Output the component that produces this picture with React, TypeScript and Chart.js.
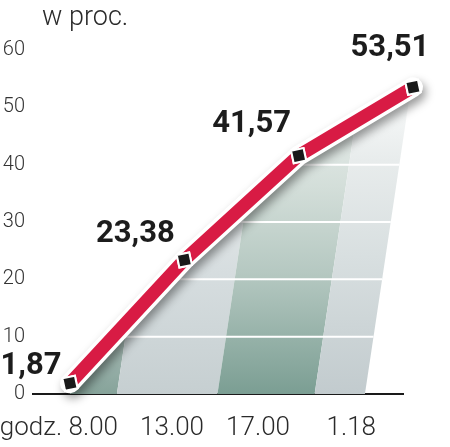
import React, { useEffect, useRef } from "react";
import { Chart, registerables } from "chart.js";

Chart.register(...registerables);

// ---- data ----
const categories: string[] = ["godz. 8.00", "13.00", "17.00", "1.18"];
const values: number[] = [1.87, 23.38, 41.57, 53.51];
const yTickValues: number[] = [0, 10, 20, 30, 40, 50, 60];
const unitLabel = "w proc.";

// ---- style ----
const RED = "#d81b44";
const TEXT = "#2a2a2a";
const LIGHT_FONT = "Roboto, 'Open Sans', sans-serif";
const SLANT = 0.15; // px right per px up, for the decorative bands

// decorative bands (in point-index units along the hidden x scale)
const BANDS = [
  { from: -0.5, to: 0.41, stops: [[0, "#86a39a"], [0.3, "#c2cecb"], [0.6, "#e6ebea"], [1, "#ffffff"]] },
  { from: 0.41, to: 1.29, stops: [[0, "#c6cfd1"], [0.35, "#d6dddf"], [0.6, "#e5e9ea"], [1, "#f7f8f8"]] },
  { from: 1.29, to: 2.14, stops: [[0, "#7b9e93"], [0.35, "#b5c8c1"], [0.6, "#d3ded9"], [0.8, "#e6ecea"], [1, "#f6f8f7"]] },
  { from: 2.14, to: 2.58, stops: [[0, "#c2cbce"], [0.4, "#d8dfe0"], [0.68, "#e8ecec"], [0.82, "#f4f6f6"], [1, "#ffffff"]] },
];

// data-label placement relative to each point (px)
const LABEL_DX = [-39, -49, -47, -23];
const LABEL_DY = [-17, -26, -31, -39];

const fmt = (v: number) => v.toFixed(2).replace(".", ",");

const bandPlugin = {
  id: "bands",
  beforeDatasetsDraw(chart: any) {
    const { ctx, scales } = chart;
    const xs = scales.x;
    const ys = scales.y;
    const pts = chart.getDatasetMeta(0).data;
    if (!pts || !pts.length) return;
    const bottom = ys.getPixelForValue(0);
    const top = ys.getPixelForValue(yTickValues[yTickValues.length - 1]);
    const h = bottom - top;
    ctx.save();
    ctx.beginPath();
    ctx.moveTo(pts[0].x, bottom);
    pts.forEach((p: any) => ctx.lineTo(p.x, p.y));
    ctx.lineTo(pts[pts.length - 1].x, bottom);
    ctx.closePath();
    ctx.clip();
    BANDS.forEach((b) => {
      const x0 = xs.getPixelForValue(b.from);
      const x1 = xs.getPixelForValue(b.to);
      const g = ctx.createLinearGradient(0, bottom, 0, top);
      b.stops.forEach(([o, c]: any) => g.addColorStop(o, c));
      ctx.fillStyle = g;
      ctx.beginPath();
      ctx.moveTo(x0, bottom);
      ctx.lineTo(x1, bottom);
      ctx.lineTo(x1 + SLANT * h, top);
      ctx.lineTo(x0 + SLANT * h, top);
      ctx.closePath();
      ctx.fill();
    });
    const last = BANDS[BANDS.length - 1];
    const lastX = xs.getPixelForValue(last.to);
    ctx.strokeStyle = "#ffffff";
    ctx.lineWidth = 2;
    yTickValues.slice(1, -2).forEach((v) => {
      const y = ys.getPixelForValue(v);
      ctx.beginPath();
      ctx.moveTo(chart.chartArea.left, y);
      ctx.lineTo(lastX + SLANT * (bottom - y), y);
      ctx.stroke();
    });
    ctx.restore();
  },
  beforeDatasetDraw(chart: any, args: any) {
    if (args.index === 1) {
      const ctx = chart.ctx;
      ctx.save();
      ctx.shadowColor = "rgba(0,0,0,0.4)";
      ctx.shadowBlur = 10;
      ctx.shadowOffsetX = 3;
      ctx.shadowOffsetY = 5;
    }
  },
  afterDatasetDraw(chart: any, args: any) {
    if (args.index === 1) chart.ctx.restore();
  },
  afterDatasetsDraw(chart: any) {
    const { ctx, chartArea } = chart;
    const pts = chart.getDatasetMeta(0).data;
    // markers: drawn with the whole canvas as area so the last one (past the axis end) shows
    const whole = { left: 0, top: 0, right: chart.width, bottom: chart.height };
    pts.forEach((p: any) => p.draw(ctx, whole));
    ctx.save();
    ctx.fillStyle = "#1c1c1c";
    ctx.font = "bold 31px Roboto, 'Liberation Sans', sans-serif";
    ctx.textAlign = "center";
    ctx.textBaseline = "middle";
    pts.forEach((p: any, i: number) => {
      ctx.fillText(fmt(values[i]), p.x + LABEL_DX[i], p.y + LABEL_DY[i]);
    });
    // unit label
    ctx.fillStyle = TEXT;
    ctx.font = "300 27px " + LIGHT_FONT;
    ctx.textAlign = "left";
    ctx.textBaseline = "alphabetic";
    ctx.fillText(unitLabel, chartArea.left + 9, 25);
    ctx.restore();
  },
};

export default function App() {
  const ref = useRef<HTMLCanvasElement | null>(null);

  useEffect(() => {
    document.body.style.margin = "0";
    const canvas = ref.current;
    if (!canvas) return;
    const points = values.map((v, i) => ({ x: i, y: v }));
    const chart = new Chart(canvas, {
      type: "line",
      data: {
        labels: categories,
        datasets: [
          {
            data: points,
            xAxisID: "x",
            yAxisID: "y",
            order: 1,
            borderColor: RED,
            borderWidth: 13,
            borderCapStyle: "round",
            borderJoinStyle: "round",
            tension: 0,
            fill: false,
            clip: false as any,
            pointStyle: "rect",
            pointRadius: 9,
            pointRotation: -12,
            pointBackgroundColor: "#1a1a1a",
            pointBorderColor: "#ffffff",
            pointBorderWidth: 2,
          },
          {
            data: points,
            xAxisID: "x",
            yAxisID: "y",
            order: 2,
            borderColor: "#ffffff",
            borderWidth: 20,
            borderCapStyle: "round",
            borderJoinStyle: "round",
            tension: 0,
            fill: false,
            clip: false as any,
            pointRadius: 0,
          },
        ],
      },
      options: {
        responsive: false,
        animation: false,
        events: [],
        layout: { padding: { top: 50, right: 47, left: 0, bottom: 0 } },
        plugins: {
          legend: { display: false },
          tooltip: { enabled: false },
          title: { display: false },
        },
        scales: {
          x: {
            type: "linear",
            display: false,
            min: -0.3236,
            max: 2.913,
          },
          xl: {
            type: "linear",
            position: "bottom",
            min: -0.988,
            max: 3.314,
            afterBuildTicks: (s: any) => {
              s.ticks = categories.map((_, i) => ({ value: i }));
            },
            grid: { display: false, drawTicks: false },
            border: { display: true, color: "#1a1a1a", width: 2 },
            ticks: {
              color: TEXT,
              font: { family: LIGHT_FONT, size: 26, weight: "300" as any },
              padding: 19,
              align: "end",
              maxRotation: 0,
              autoSkip: false,
              callback: (v: any) => categories[Math.round(Number(v))],
            },
            afterFit: (s: any) => {
              s.height = 53;
              s.paddingLeft = 0;
              s.paddingRight = 0;
            },
          },
          y: {
            type: "linear",
            min: 0,
            max: 60,
            afterBuildTicks: (s: any) => {
              s.ticks = yTickValues.map((v) => ({ value: v }));
            },
            grid: { display: false, drawTicks: false },
            border: { display: false },
            ticks: {
              color: "#333333",
              font: { family: LIGHT_FONT, size: 20, weight: "300" as any },
              padding: 8,
            },
            afterFit: (s: any) => {
              s.width = 33;
            },
          },
        },
      },
      plugins: [bandPlugin],
    });
    return () => chart.destroy();
  }, []);

  return (
    <div style={{ width: 450, height: 447 }}>
      <canvas ref={ref} width={450} height={447} style={{ display: "block" }} />
    </div>
  );
}
